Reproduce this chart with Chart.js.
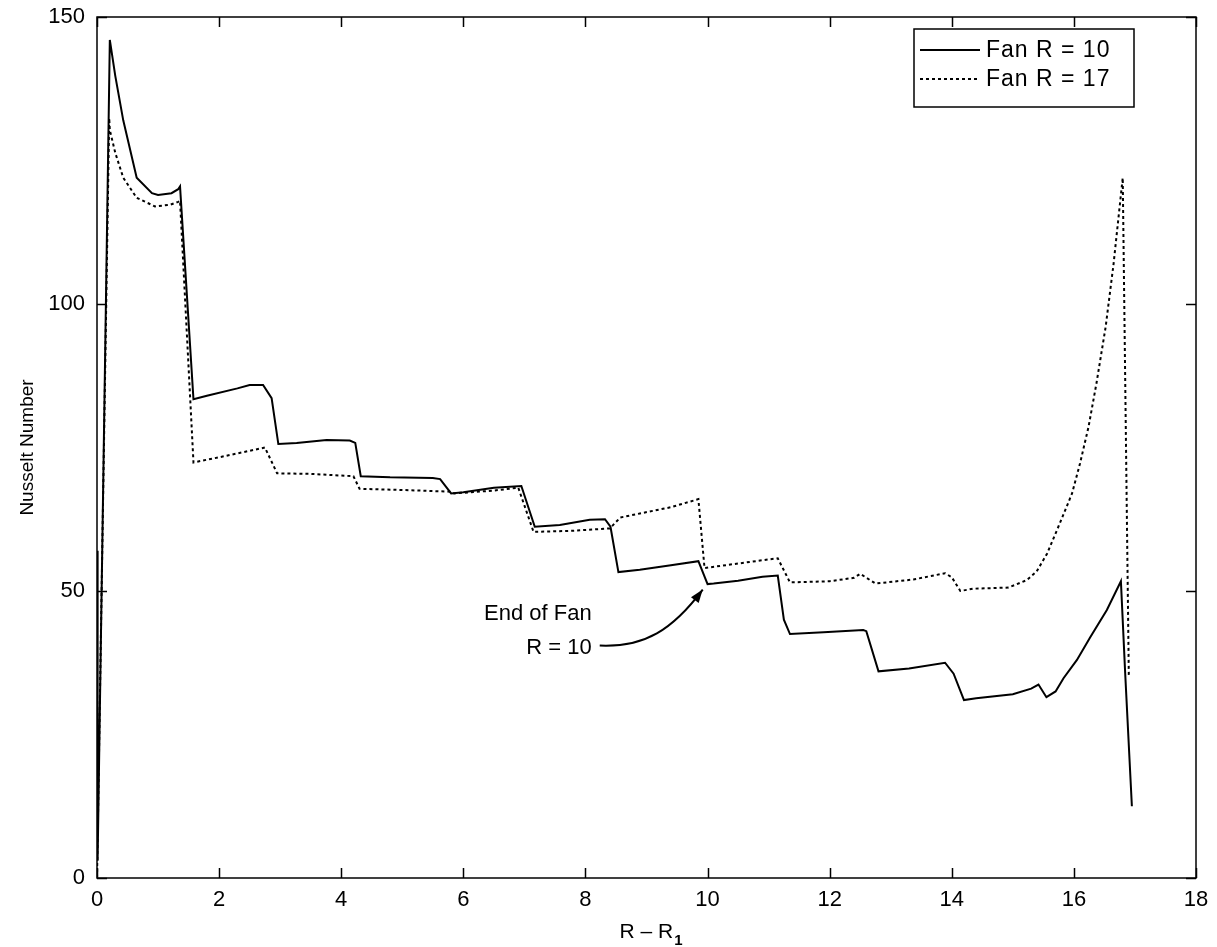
<!DOCTYPE html>
<html>
<head>
<meta charset="utf-8">
<script src="https://cdn.jsdelivr.net/npm/chart.js@4.4.0/dist/chart.umd.min.js"></script>
<style>
  html, body { margin: 0; padding: 0; background: #fff; }
  #wrap { width: 1217px; height: 947px; }
</style>
</head>
<body>
<div id="wrap"><canvas id="myChart" width="1217" height="947"></canvas></div>
<script>
// axis ticks
var xTicks = [0, 2, 4, 6, 8, 10, 12, 14, 16, 18]
var yTicks = [0, 50, 100, 150]

// Fan R = 10 (solid)
var xFan10 = [0, 0.01, 0.21, 0.3, 0.43, 0.65, 0.9, 1.0, 1.22, 1.33, 1.36, 1.58, 1.8, 2.3, 2.5, 2.72, 2.86, 2.97,
  3.27, 3.76, 4.14, 4.23, 4.32, 4.8, 5.5, 5.62, 5.8, 6.0, 6.5, 6.95, 7.17, 7.58, 8.07, 8.32, 8.41, 8.54, 8.89,
  9.4, 9.85, 10.0, 10.1, 10.5, 10.9, 11.15, 11.25, 11.35, 11.9, 12.55, 12.6, 12.8, 13.3, 13.89, 14.03, 14.2,
  14.4, 15.0, 15.3, 15.42, 15.55, 15.7, 15.83, 16.05, 16.27, 16.54, 16.77, 16.84, 16.95]
var yFan10 = [57, 3, 146, 139.7, 132, 122, 119.3, 119, 119.3, 120, 120.5, 83.4, 84, 85.3, 85.9, 85.9, 83.6, 75.6,
  75.8, 76.3, 76.2, 75.8, 70, 69.8, 69.7, 69.5, 67, 67.2, 68, 68.3, 61.2, 61.5, 62.4, 62.5, 61.2, 53.3, 53.7,
  54.5, 55.2, 51.2, 51.3, 51.8, 52.5, 52.7, 45, 42.5, 42.8, 43.2, 43, 36, 36.5, 37.5, 35.6, 31,
  31.3, 32, 33, 33.7, 31.5, 32.5, 34.8, 38, 42, 46.7, 51.7, 35.7, 12.5]

// Fan R = 17 (dotted)
var xFan17 = [0, 0.2, 0.21, 0.3, 0.43, 0.65, 0.95, 1.2, 1.33, 1.36, 1.58, 2.0, 2.4, 2.75, 2.95, 3.5, 4.2, 4.3,
  5.0, 5.8, 5.85, 6.5, 6.9, 7.15, 7.8, 8.4, 8.57, 8.89, 9.4, 9.85, 9.95, 10.3, 11.0, 11.15, 11.35, 12.0, 12.4,
  12.5, 12.75, 13.37, 13.89, 14.0, 14.14, 14.35, 14.93, 15.23, 15.39, 15.56, 15.77, 15.97, 16.1, 16.24, 16.37,
  16.52, 16.65, 16.8, 16.9]
var yFan17 = [0, 132.4, 130.3, 126.3, 122, 118.5, 117, 117.3, 117.8, 118, 72.4, 73.3, 74.2, 75, 70.5, 70.4, 70, 67.8,
  67.6, 67.3, 67, 67.5, 68, 60.3, 60.5, 60.9, 62.8, 63.5, 64.6, 66, 54, 54.5, 55.5, 55.7, 51.5, 51.7, 52.3,
  53, 51.3, 52, 53.1, 52.4, 50, 50.4, 50.6, 51.9, 53.4, 56.5, 61.8, 67, 72.2, 78.6, 86.2,
  96, 107, 122, 35]

var seriesNames = ['Fan R = 10', 'Fan R = 17']
var noteLines = ['End of Fan', 'R = 10']
var notePoint = [9.97, 51.3]

var FONT = '"Liberation Sans", Arial, Helvetica, sans-serif'

function pts(xs, ys) {
  var out = []
  for (var i = 0; i < xs.length; i++) out.push({ x: xs[i], y: ys[i] })
  return out
}

// box, inward ticks on all four sides, legend, note, x title
var matlabish = {
  id: 'matlabish',
  afterDraw: function (chart) {
    var c = chart.ctx, a = chart.chartArea
    var sx = chart.scales.x, sy = chart.scales.y
    c.save()
    c.strokeStyle = '#000'
    c.lineWidth = 1.5
    c.strokeRect(a.left, a.top, a.right - a.left, a.bottom - a.top)

    c.beginPath()
    xTicks.forEach(function (v) {
      var px = Math.round(sx.getPixelForValue(v)) + 0.5
      c.moveTo(px, a.bottom); c.lineTo(px, a.bottom - 10)
      c.moveTo(px, a.top); c.lineTo(px, a.top + 10)
    })
    yTicks.forEach(function (v) {
      var py = Math.round(sy.getPixelForValue(v)) + 0.5
      c.moveTo(a.left, py); c.lineTo(a.left + 10, py)
      c.moveTo(a.right, py); c.lineTo(a.right - 10, py)
    })
    c.stroke()

    // legend
    var lx = a.right - 282, ly = a.top + 12, lw = 220, lh = 78
    c.fillStyle = '#fff'
    c.fillRect(lx, ly, lw, lh)
    c.lineWidth = 1.5
    c.strokeRect(lx, ly, lw, lh)
    c.textBaseline = 'middle'
    c.fillStyle = '#000'
    chart.data.datasets.forEach(function (ds, i) {
      var ry = ly + 21 + i * 29
      c.setLineDash(ds.borderDash || [])
      c.lineWidth = ds.borderWidth
      c.beginPath()
      c.moveTo(lx + 6, ry); c.lineTo(lx + 66, ry)
      c.stroke()
      c.setLineDash([])
      c.font = '23px ' + FONT
      c.letterSpacing = '1px'
      c.fillText(ds.label, lx + 72, ry + 1)
      c.letterSpacing = '0px'
    })

    // annotation with curved arrow
    c.font = '22px ' + FONT
    var tx = sx.getPixelForValue(notePoint[0]), ty = sy.getPixelForValue(notePoint[1])
    var textRight = tx - 114
    var y1 = ty + 30, y2 = ty + 64
    c.textAlign = 'right'
    c.fillText(noteLines[0], textRight, y1)
    c.fillText(noteLines[1], textRight, y2)
    var sxp = textRight + 8, syp = y2 - 2
    var hx = tx - 3, hy = ty + 6
    c.lineWidth = 2
    c.beginPath()
    c.moveTo(sxp, syp)
    c.bezierCurveTo(sxp + 45, syp + 2, hx - 30, hy + 40, hx, hy)
    c.stroke()
    // arrow head along final tangent
    var ang = Math.atan2(hy - (hy + 40), hx - (hx - 30))
    c.beginPath()
    c.moveTo(hx, hy)
    c.lineTo(hx - 14 * Math.cos(ang - 0.35), hy - 14 * Math.sin(ang - 0.35))
    c.lineTo(hx - 14 * Math.cos(ang + 0.35), hy - 14 * Math.sin(ang + 0.35))
    c.closePath()
    c.fill()

    // x axis title with subscript
    c.textAlign = 'left'
    c.textBaseline = 'alphabetic'
    c.font = '21px ' + FONT
    var main = 'R \u2013 R'
    var w = c.measureText(main).width
    c.font = 'bold 15px ' + FONT
    var ws = c.measureText('1').width
    var cx = (a.left + a.right) / 2 + 4 - (w + ws) / 2
    c.font = '21px ' + FONT
    c.fillText(main, cx, 938)
    c.font = 'bold 15px ' + FONT
    c.fillText('1', cx + w + 1, 945)
    c.restore()
  }
}

var ctx = document.getElementById('myChart').getContext('2d')

var chart = new Chart(ctx, {
  type: 'scatter',
  data: {
    datasets: [{
      label: seriesNames[0],
      data: pts(xFan10, yFan10),
      showLine: true,
      borderColor: '#000',
      borderWidth: 2,
      pointRadius: 0,
      tension: 0
    },
    {
      label: seriesNames[1],
      data: pts(xFan17, yFan17),
      showLine: true,
      borderColor: '#000',
      borderWidth: 2,
      borderDash: [3, 3],
      pointRadius: 0,
      tension: 0
    }]
  },
  options: {
    responsive: false,
    animation: false,
    layout: { padding: { left: 0, top: 17, right: 21, bottom: 0 } },
    plugins: {
      legend: { display: false },
      tooltip: { enabled: false }
    },
    scales: {
      x: {
        type: 'linear',
        min: 0, max: 18,
        afterBuildTicks: function (s) { s.ticks = xTicks.map(function (v) { return { value: v } }) },
        afterFit: function (s) { s.height = 69; s.paddingLeft = 0; s.paddingRight = 0 },
        grid: { display: false, drawTicks: false },
        border: { display: false },
        ticks: { color: '#000', padding: 9, font: { family: FONT, size: 22 } }
      },
      y: {
        min: 0, max: 150,
        afterBuildTicks: function (s) { s.ticks = yTicks.map(function (v) { return { value: v } }) },
        afterFit: function (s) { s.width = 97; s.paddingTop = 0; s.paddingBottom = 0 },
        grid: { display: false, drawTicks: false },
        border: { display: false },
        ticks: { color: '#000', padding: 12, font: { family: FONT, size: 22 } },
        title: {
          display: true,
          text: 'Nusselt Number',
          color: '#000',
          font: { family: FONT, size: 19 },
          padding: { top: 16, bottom: 0 }
        }
      }
    }
  },
  plugins: [matlabish]
})
</script>
</body>
</html>
